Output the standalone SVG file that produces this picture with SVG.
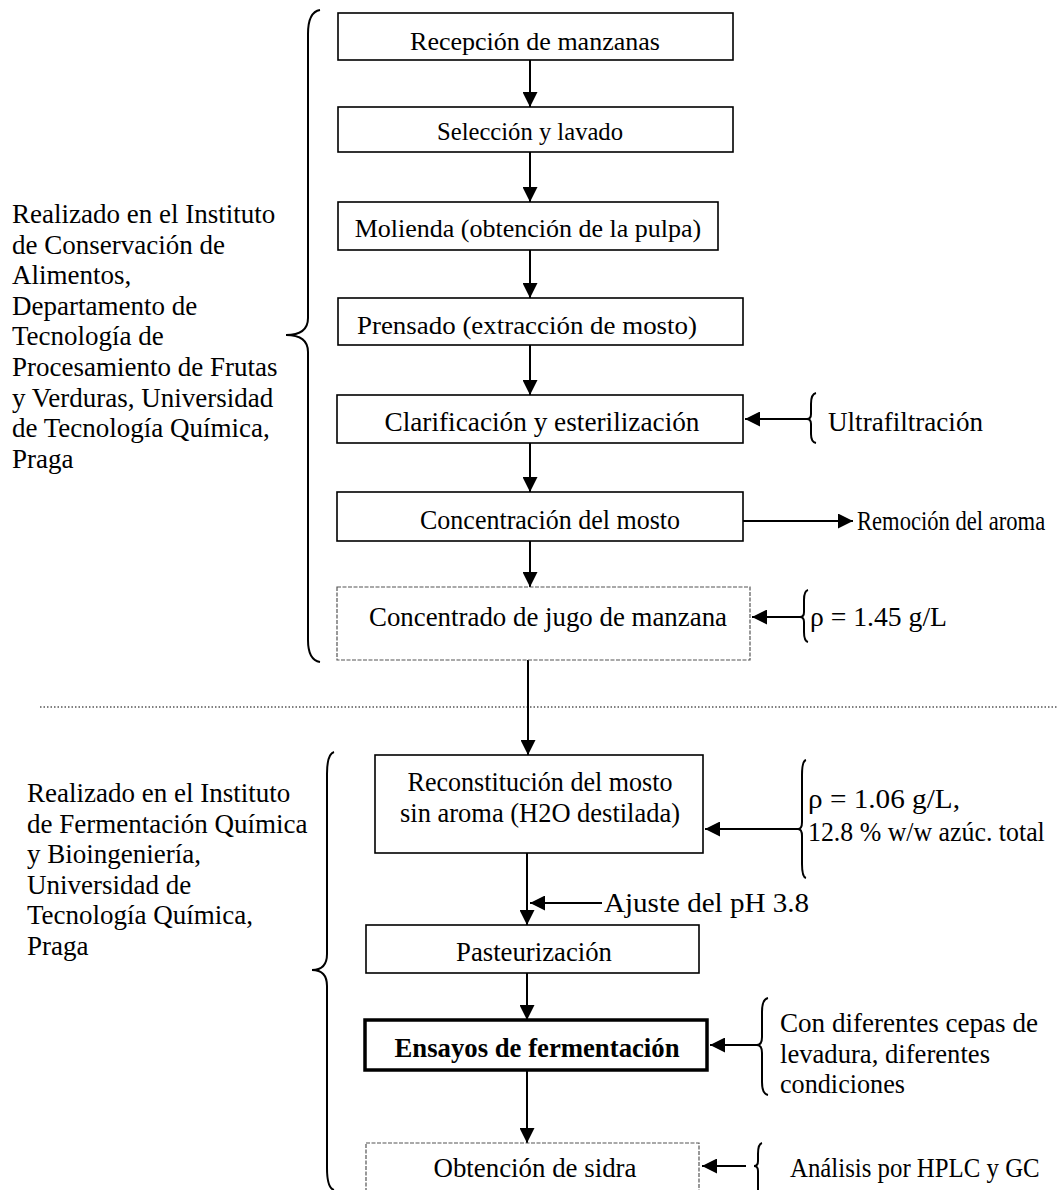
<svg xmlns="http://www.w3.org/2000/svg" width="1058" height="1190" viewBox="0 0 1058 1190">
<defs>
<style>
text{font-family:"Liberation Serif","Times New Roman",serif;font-size:26px;fill:#000}
.c{text-anchor:middle}
.k{font-size:28px}
.side{font-size:27px}
.box{fill:#fff;stroke:#000;stroke-width:1.6}
.lbox{fill:#fff;stroke:#555;stroke-width:1.2;stroke-dasharray:4 1.5}
.bold{fill:#fff;stroke:#000;stroke-width:3.5}
.ln{fill:none;stroke:#000;stroke-width:2}
.br{fill:none;stroke:#000;stroke-width:2}
</style>
<marker id="ah" viewBox="0 0 10 10" refX="10" refY="5" markerWidth="7.5" markerHeight="7.5" markerUnits="strokeWidth" orient="auto">
<path d="M0,0 L10,5 L0,10 Z" fill="#000"/>
</marker>
</defs>
<rect width="1058" height="1190" fill="#fff"/>

<g id="brace-top">
<path class="br" d="M320,10 Q308,12 308,34 L308,318 Q308,335 286,335 Q308,335 308,352 L308,640 Q308,660 320,662"/>
<text class="side" x="12" y="223">Realizado en el Instituto</text>
<text class="side" x="12" y="253.6">de Conservación de</text>
<text class="side" x="12" y="284.2">Alimentos,</text>
<text class="side" x="12" y="314.8">Departamento de</text>
<text class="side" x="12" y="345.4">Tecnología de</text>
<text class="side" x="12" y="376">Procesamiento de Frutas</text>
<text class="side" x="12" y="406.6">y Verduras, Universidad</text>
<text class="side" x="12" y="437.2">de Tecnología Química,</text>
<text class="side" x="12" y="467.8">Praga</text>
</g>

<g id="brace-bottom">
<path class="br" d="M334,752 Q327,754 327,774 L327,954 Q327,970 312,970 Q327,970 327,986 L327,1168 Q327,1188 334,1190"/>
<text class="side" x="27" y="802">Realizado en el Instituto</text>
<text class="side" x="27" y="832.6">de Fermentación Química</text>
<text class="side" x="27" y="863.2">y Bioingeniería,</text>
<text class="side" x="27" y="893.8">Universidad de</text>
<text class="side" x="27" y="924.4">Tecnología Química,</text>
<text class="side" x="27" y="955">Praga</text>
</g>

<line x1="40" y1="707" x2="1058" y2="707" stroke="#000" stroke-width="1" stroke-dasharray="1.5 2"/>

<g id="connectors">
<line class="ln" x1="530" y1="60" x2="530" y2="107" marker-end="url(#ah)"/>
<line class="ln" x1="530" y1="152" x2="530" y2="202" marker-end="url(#ah)"/>
<line class="ln" x1="530" y1="250" x2="530" y2="298" marker-end="url(#ah)"/>
<line class="ln" x1="530" y1="345" x2="530" y2="395" marker-end="url(#ah)"/>
<line class="ln" x1="530" y1="443" x2="530" y2="492" marker-end="url(#ah)"/>
<line class="ln" x1="530" y1="541" x2="530" y2="587" marker-end="url(#ah)"/>
<line class="ln" x1="528" y1="660" x2="528" y2="755" marker-end="url(#ah)"/>
<line class="ln" x1="527" y1="853" x2="527" y2="925" marker-end="url(#ah)"/>
<line class="ln" x1="527" y1="973" x2="527" y2="1020" marker-end="url(#ah)"/>
<line class="ln" x1="527" y1="1070" x2="527" y2="1143" marker-end="url(#ah)"/>
<line class="ln" x1="807" y1="419" x2="745" y2="419" marker-end="url(#ah)"/>
<line class="ln" x1="743" y1="521" x2="853" y2="521" marker-end="url(#ah)"/>
<line class="ln" x1="800" y1="617" x2="752" y2="617" marker-end="url(#ah)"/>
<line class="ln" x1="798" y1="829" x2="705" y2="829" marker-end="url(#ah)"/>
<line class="ln" x1="602" y1="903" x2="530" y2="903" marker-end="url(#ah)"/>
<line class="ln" x1="757" y1="1045" x2="710" y2="1045" marker-end="url(#ah)"/>
<line class="ln" x1="746" y1="1166" x2="702" y2="1166" marker-end="url(#ah)"/>
</g>

<g id="n1"><rect class="box" x="338" y="13" width="395" height="47"/><text class="c" x="535" y="50">Recepción de manzanas</text></g>
<g id="n2"><rect class="box" x="338" y="107" width="395" height="45"/><text class="c" x="530" y="140" textLength="186" lengthAdjust="spacingAndGlyphs">Selección y lavado</text></g>
<g id="n3"><rect class="box" x="338" y="202" width="380" height="48"/><text class="c" x="528" y="237">Molienda (obtención de la pulpa)</text></g>
<g id="n4"><rect class="box" x="338" y="298" width="405" height="47"/><text class="c" x="527" y="334" textLength="340" lengthAdjust="spacingAndGlyphs">Prensado (extracción de mosto)</text></g>
<g id="n5"><rect class="box" x="337" y="395" width="406" height="48"/><text class="c k" x="542" y="431" textLength="315" lengthAdjust="spacingAndGlyphs">Clarificación y esterilización</text></g>
<g id="n6"><rect class="box" x="337" y="492" width="406" height="49"/><text class="c k" x="550" y="529" textLength="260" lengthAdjust="spacingAndGlyphs">Concentración del mosto</text></g>
<g id="n7"><rect class="lbox" x="337" y="587" width="413" height="73"/><text class="c k" x="548" y="626" textLength="358" lengthAdjust="spacingAndGlyphs">Concentrado de jugo de manzana</text></g>
<g id="n8"><rect class="box" x="375" y="755" width="328" height="98"/><text class="c k" x="540" y="791" textLength="265" lengthAdjust="spacingAndGlyphs">Reconstitución del mosto</text><text class="c k" x="540" y="822" textLength="280" lengthAdjust="spacingAndGlyphs">sin aroma (H2O destilada)</text></g>
<g id="n9"><rect class="box" x="366" y="925" width="333" height="48"/><text class="c k" x="534" y="961" textLength="156" lengthAdjust="spacingAndGlyphs">Pasteurización</text></g>
<g id="n10"><rect class="bold" x="365" y="1020" width="342" height="50"/><text class="c k" x="537" y="1057" font-weight="bold" textLength="285" lengthAdjust="spacingAndGlyphs">Ensayos de fermentación</text></g>
<g id="n11"><rect class="lbox" x="366" y="1143" width="333" height="60"/><text class="c k" x="535" y="1177" textLength="203" lengthAdjust="spacingAndGlyphs">Obtención de sidra</text></g>

<g id="a-ultra">
<path class="br" d="M816,393 Q811,394 811,404 L811,414 Q811,419 807,419 Q811,419 811,424 L811,434 Q811,442 816,443"/>
<text class="k" x="828" y="431" textLength="155" lengthAdjust="spacingAndGlyphs">Ultrafiltración</text>
</g>
<g id="a-remocion"><text class="k" transform="translate(857,530) scale(0.807,1)">Remoción del aroma</text></g>
<g id="a-rho145">
<path class="br" d="M808,590 Q804,591 804,600 L804,612 Q804,617 800,617 Q804,617 804,622 L804,632 Q804,641 808,642"/>
<text class="k" x="810" y="626" textLength="137" lengthAdjust="spacingAndGlyphs">ρ = 1.45 g/L</text>
</g>
<g id="a-rho106">
<path class="br" d="M806,760 Q802,761 802,775 L802,822 Q802,829 798,829 Q802,829 802,836 L802,864 Q802,877 806,878"/>
<text class="k" x="808" y="808" textLength="152" lengthAdjust="spacingAndGlyphs">ρ = 1.06 g/L,</text>
<text class="k" transform="translate(808,841) scale(0.923,1)">12.8 % w/w azúc. total</text>
</g>
<g id="a-ph"><text class="k" x="604" y="912" textLength="205" lengthAdjust="spacingAndGlyphs">Ajuste del pH 3.8</text></g>
<g id="a-cepas">
<path class="br" d="M768,998 Q762,999 762,1012 L762,1037 Q762,1045 757,1045 Q762,1045 762,1053 L762,1082 Q762,1094 768,1095"/>
<text class="k" x="780" y="1032" textLength="258" lengthAdjust="spacingAndGlyphs">Con diferentes cepas de</text>
<text class="k" x="780" y="1063" textLength="210" lengthAdjust="spacingAndGlyphs">levadura, diferentes</text>
<text class="k" x="780" y="1093" textLength="125" lengthAdjust="spacingAndGlyphs">condiciones</text>
</g>
<g id="a-analisis">
<path class="br" d="M762,1143 Q758,1144 758,1154 L758,1161 Q758,1166 754,1166 Q758,1166 758,1171 L758,1190"/>
<text class="k" transform="translate(790,1177) scale(0.887,1)">Análisis por HPLC y GC</text>
</g>
</svg>
